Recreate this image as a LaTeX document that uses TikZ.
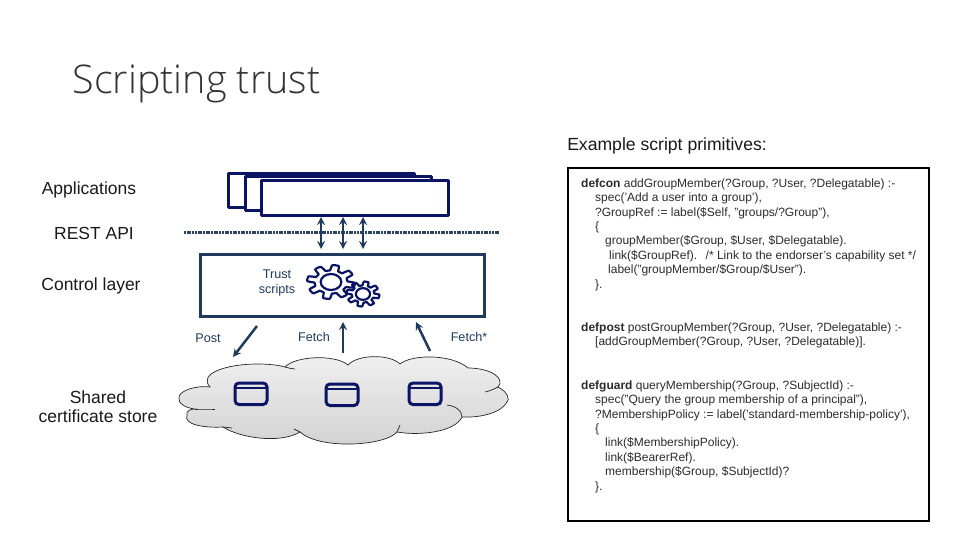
\documentclass[tikz,border=0pt]{standalone}
\usepackage{fontspec}
\setmainfont{Liberation Sans}
\newfontfamily\titlefont{Open Sans Light}
\definecolor{navy}{HTML}{0B1464}
\definecolor{slate}{HTML}{1F3A5C}
\definecolor{codegray}{HTML}{2B2B2B}
\tikzset{
  lbl/.style={font=\fontsize{17.5}{19}\selectfont,text=black!90,align=center,inner sep=0pt},
  small/.style={font=\fontsize{12.6}{15}\selectfont,text=slate,align=center,inner sep=0pt},
  code/.style={font=\fontsize{12}{14.4}\selectfont,text=codegray,align=left,anchor=north west,inner sep=0pt},
  appbox/.style={draw=navy,fill=white,line width=3pt,line join=round},
  dbicon/.style={draw=navy,line width=3pt,rounded corners=4pt},
  link/.style={draw=slate,line width=2.5pt,>=stealth},
  gear/.style={draw=navy,line width=2.2pt,line join=round},
  edge line/.style={black!85,line width=0.7pt}
}
\newcommand{\gearicon}[4]{%
  \draw[gear,shift={(#1,#2)}] plot[domain=0:360,samples=145]
    ({#3*(0.84+0.16*max(min(2.5*sin(8*\x),1),-1))*cos(\x)},{#4*(0.84+0.16*max(min(2.5*sin(8*\x),1),-1))*sin(\x)}) -- cycle;
  \draw[gear,shift={(#1,#2)}] (0,0) ellipse[x radius=#3*0.43pt,y radius=#4*0.47pt];
}
\newcommand{\dbdraw}[2]{%
  \draw[dbicon] (#1,#2) rectangle ++(32,21.5);
  \draw[navy,line width=2pt] (#1,#2+5) -- ++(32,0);
}
\begin{document}
\begin{tikzpicture}[x=1pt,y=-1pt]
  \useasboundingbox (0,0) rectangle (960,540);
  \node[inner sep=0pt,text=black!80] (title) at (196.5,84) {\titlefont\fontsize{39.5}{44}\selectfont Scripting trust};
  \node[lbl,font=\fontsize{17.6}{19}\selectfont] (header) at (667,146) {Example script primitives:};
  % left labels
  \node[lbl] (apps) at (89,190) {Applications};
  \node[lbl] (rest) at (94,233.5) {REST API};
  \node[lbl] (ctrl) at (91,286) {Control layer};
  \node[lbl] (store) at (98,407) {Shared\\certificate store};
  % application boxes
  \draw[appbox] (228,174) rectangle (414,207);
  \draw[appbox] (245,177) rectangle (431,210);
  \draw[appbox] (261,181) rectangle (448,215);
  % api line
  \draw[slate!85!gray,line width=3pt,dash pattern=on 2pt off 0.7pt] (184,232) -- (499,232);
  % control layer
  \node[draw=slate,line width=3pt,minimum width=284pt,minimum height=62pt,inner sep=0pt] (layer) at (342,285) {};
  \node[small] (scripts) at (277,283) {Trust\\scripts};
  \gearicon{331}{282}{24}{17}
  \gearicon{363}{294}{16.5}{12.5}
  \foreach \x in {321,343,363}
    \draw[link,<->] (\x,217) -- (\x,249);
  % cloud
  \draw[edge line,top color=gray!12,bottom color=gray!36]
    (179,398) .. controls (178,391) and (196,385) .. (210,387)
    .. controls (198,374) and (225,364) .. (258,364)
    .. controls (268,364) and (278,365) .. (285,367)
    .. controls (295,356) and (335,354) .. (348,365)
    .. controls (358,354) and (390,354) .. (400,364)
    .. controls (412,354) and (452,354) .. (468,368)
    .. controls (490,368) and (506,378) .. (498,387)
    .. controls (508,392) and (510,400) .. (507,402)
    .. controls (502,412) and (482,418) .. (462,417)
    .. controls (455,432) and (420,436) .. (397,432)
    .. controls (385,446) and (320,450) .. (300,432)
    .. controls (280,444) and (240,438) .. (223,427)
    .. controls (205,428) and (183,425) .. (187,415)
    .. controls (186,411) and (190,409) .. (195,409)
    .. controls (185,408) and (178,403) .. (179,398) -- cycle;
  \draw[edge line] (285,367) .. controls (289,368) and (292,369) .. (295,369);
  \draw[edge line] (397,432) .. controls (398,430) and (399,427) .. (400,425);
  \draw[edge line] (462,417) .. controls (462,410) and (455,406) .. (447,405);
  \draw[edge line] (498,387) .. controls (494,389) and (490,391) .. (485,392);
  \draw[edge line] (195,409) .. controls (202,409) and (209,409) .. (215,409);
  \draw[edge line] (223,427) .. controls (226,427) and (229,428) .. (232,428);
  \draw[edge line] (300,432) .. controls (298,431) and (296,430) .. (294,429);
  % store icons
  \dbdraw{235}{383}
  \dbdraw{326}{384}
  \dbdraw{409}{383}
  % arrows
  \coordinate (postfrom) at (257,326);
  \coordinate (postto) at (233,357);
  \coordinate (fetchfrom) at (343,353);
  \coordinate (fetchto) at (343,322);
  \coordinate (fetchsfrom) at (430,351);
  \coordinate (fetchsto) at (416,322);
  \draw[link,->] (postfrom) -- (postto);
  \draw[link,->] (fetchfrom) -- (fetchto);
  \draw[link,->] (fetchsfrom) -- (fetchsto);
  \node[small] (post) at (208,338) {Post};
  \node[small] (fetch) at (314,337) {Fetch};
  \node[small] (fetchs) at (469,337) {Fetch*};
  % script box
  \node[draw=black,line width=2pt,minimum width=361pt,minimum height=352pt,inner sep=0pt] (scriptbox) at (748,344.5) {};
  \node[code] (defcon) at (581,178.5) {\textbf{defcon} addGroupMember(?Group, ?User, ?Delegatable) :-\\
    \hspace*{14pt}spec('Add a user into a group'),\\
    \hspace*{14pt}?GroupRef := label(\$Self, "groups/?Group"),\\
    \hspace*{14pt}\{\\
    \hspace*{24pt}groupMember(\$Group, \$User, \$Delegatable).\\
    \hspace*{28pt}link(\$GroupRef).\hspace{4pt} /* Link to the endorser's capability set */\\
    \hspace*{27pt}label("groupMember/\$Group/\$User").\\
    \hspace*{14pt}\}.};
  \node[code] (defpost) at (581,322.5) {\textbf{defpost} postGroupMember(?Group, ?User, ?Delegatable) :-\\
    \hspace*{14pt}[addGroupMember(?Group, ?User, ?Delegatable)].};
  \node[code] (defguard) at (581,380.5) {\textbf{defguard} queryMembership(?Group, ?SubjectId) :-\\
    \hspace*{14pt}spec("Query the group membership of a principal"),\\
    \hspace*{14pt}?MembershipPolicy := label('standard-membership-policy'),\\
    \hspace*{14pt}\{\\
    \hspace*{24pt}link(\$MembershipPolicy).\\
    \hspace*{24pt}link(\$BearerRef).\\
    \hspace*{24pt}membership(\$Group, \$SubjectId)?\\
    \hspace*{14pt}\}.};
\end{tikzpicture}
\end{document}
